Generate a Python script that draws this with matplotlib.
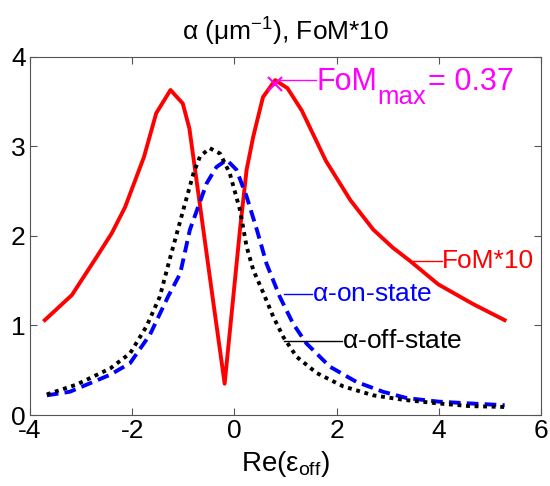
import numpy as np
import matplotlib
matplotlib.use("Agg")
import matplotlib.pyplot as plt

plt.rcParams['font.family'] = ['Liberation Sans', 'DejaVu Sans']
plt.rcParams['mathtext.fontset'] = 'custom'
plt.rcParams['mathtext.rm'] = 'Liberation Sans'
plt.rcParams['mathtext.it'] = 'Liberation Sans'
plt.rcParams['axes.unicode_minus'] = False

# FoM*10 curve
fom_x = [-3.71, -3.18, -2.69, -2.40, -2.14, -1.77, -1.53, -1.25, -1.01, -0.88,
         -0.67, -0.41, -0.19, 0.11, 0.24, 0.37, 0.56, 0.80, 1.04, 1.32,
         1.79, 2.27, 2.72, 3.10, 3.44, 3.99, 4.67, 5.29]
fom_y = [1.06, 1.34, 1.77, 2.03, 2.32, 2.88, 3.37, 3.63, 3.48, 3.20,
         2.33, 1.25, 0.35, 2.07, 2.74, 3.11, 3.55, 3.74, 3.65, 3.40,
         2.84, 2.40, 2.07, 1.87, 1.72, 1.46, 1.24, 1.06]

# alpha on-state
on_x = [-3.67, -3.22, -2.43, -2.04, -1.65, -1.30, -1.06, -0.87, -0.54, -0.35,
        -0.15, 0.04, 0.24, 0.44, 0.63, 0.89, 1.15, 1.41, 1.87, 2.39,
        2.91, 3.37, 3.99, 4.60, 5.29]
on_y = [0.22, 0.26, 0.45, 0.58, 0.90, 1.32, 1.58, 2.07, 2.59, 2.77,
        2.85, 2.74, 2.44, 2.07, 1.69, 1.32, 1.02, 0.80, 0.54, 0.37,
        0.26, 0.19, 0.15, 0.13, 0.11]

# alpha off-state
off_x = [-3.67, -3.09, -2.43, -2.04, -1.72, -1.46, -1.26, -1.00, -0.80, -0.67,
         -0.48, -0.28, -0.09, 0.11, 0.24, 0.37, 0.57, 0.76, 0.96, 1.22,
         1.61, 2.13, 2.72, 3.31, 3.99, 4.60, 5.29]
off_y = [0.23, 0.34, 0.52, 0.69, 0.99, 1.32, 1.75, 2.29, 2.70, 2.89,
         2.98, 2.92, 2.70, 2.29, 1.88, 1.62, 1.36, 1.10, 0.87, 0.65,
         0.47, 0.32, 0.22, 0.17, 0.13, 0.10, 0.09]

fom_max = 0.37
fom_max_x = 0.80

fig = plt.figure(figsize=(5.5, 4.86), dpi=100)
ax = fig.add_axes([0.0545, 0.146, 0.929, 0.737])

ax.plot(fom_x, fom_y, color='#ff0000', lw=2.8)
ax.plot(on_x, on_y, color='#0000ff', lw=2.8, ls=(0, (3, 1.6)))
ax.plot(off_x, off_y, color='black', lw=2.8, ls=(0, (1, 1.2)))

# FoM max marker, leader line and label (MATLAB-style big subscript)
mag = '#ff00ff'
ax.plot([fom_max_x], [fom_max * 10], 'x', color=mag, ms=10, mew=1.5)
ax.plot([fom_max_x + 0.1, 1.6], [3.74, 3.74], color=mag, lw=1)
ax.text(1.6, 3.63, 'FoM', color=mag, fontsize=22, va='baseline')
ax.text(2.79, 3.47, 'max', color=mag, fontsize=18.5, va='baseline')
ax.text(3.79, 3.63, '= %.2f' % fom_max, color=mag, fontsize=22, va='baseline')

ax.plot([3.44, 4.07], [1.72, 1.72], color='#ff0000', lw=1)
ax.text(4.07, 1.72, 'FoM*10', color='#ff0000', fontsize=19, va='center')
ax.plot([0.97, 1.52], [1.35, 1.35], color='#0000ff', lw=1)
ax.text(1.52, 1.35, r'$\alpha$-on-state', color='#0000ff', fontsize=19, va='center')
ax.plot([0.97, 2.10], [0.83, 0.83], color='black', lw=1)
ax.text(2.10, 0.83, r'$\alpha$-off-state', color='black', fontsize=19, va='center')

ax.set_xlim(-4, 6)
ax.set_ylim(0, 4)
ax.set_xticks([-4, -2, 0, 2, 4, 6])
ax.set_yticks([0, 1, 2, 3, 4])
for s in ax.spines.values():
    s.set_color('#555555')
ax.tick_params(direction='in', top=True, right=True, labelsize=19, length=5,
               pad=3, color='#555555')
ax.set_xlabel(r'Re($\epsilon_{\mathrm{off}}$)', fontsize=20, labelpad=4)
ax.set_title(r'$\alpha$ ($\mu$m$^{\mathrm{-}1}$), FoM*10', fontsize=19, pad=12)

fig.savefig('out.png', dpi=100)
